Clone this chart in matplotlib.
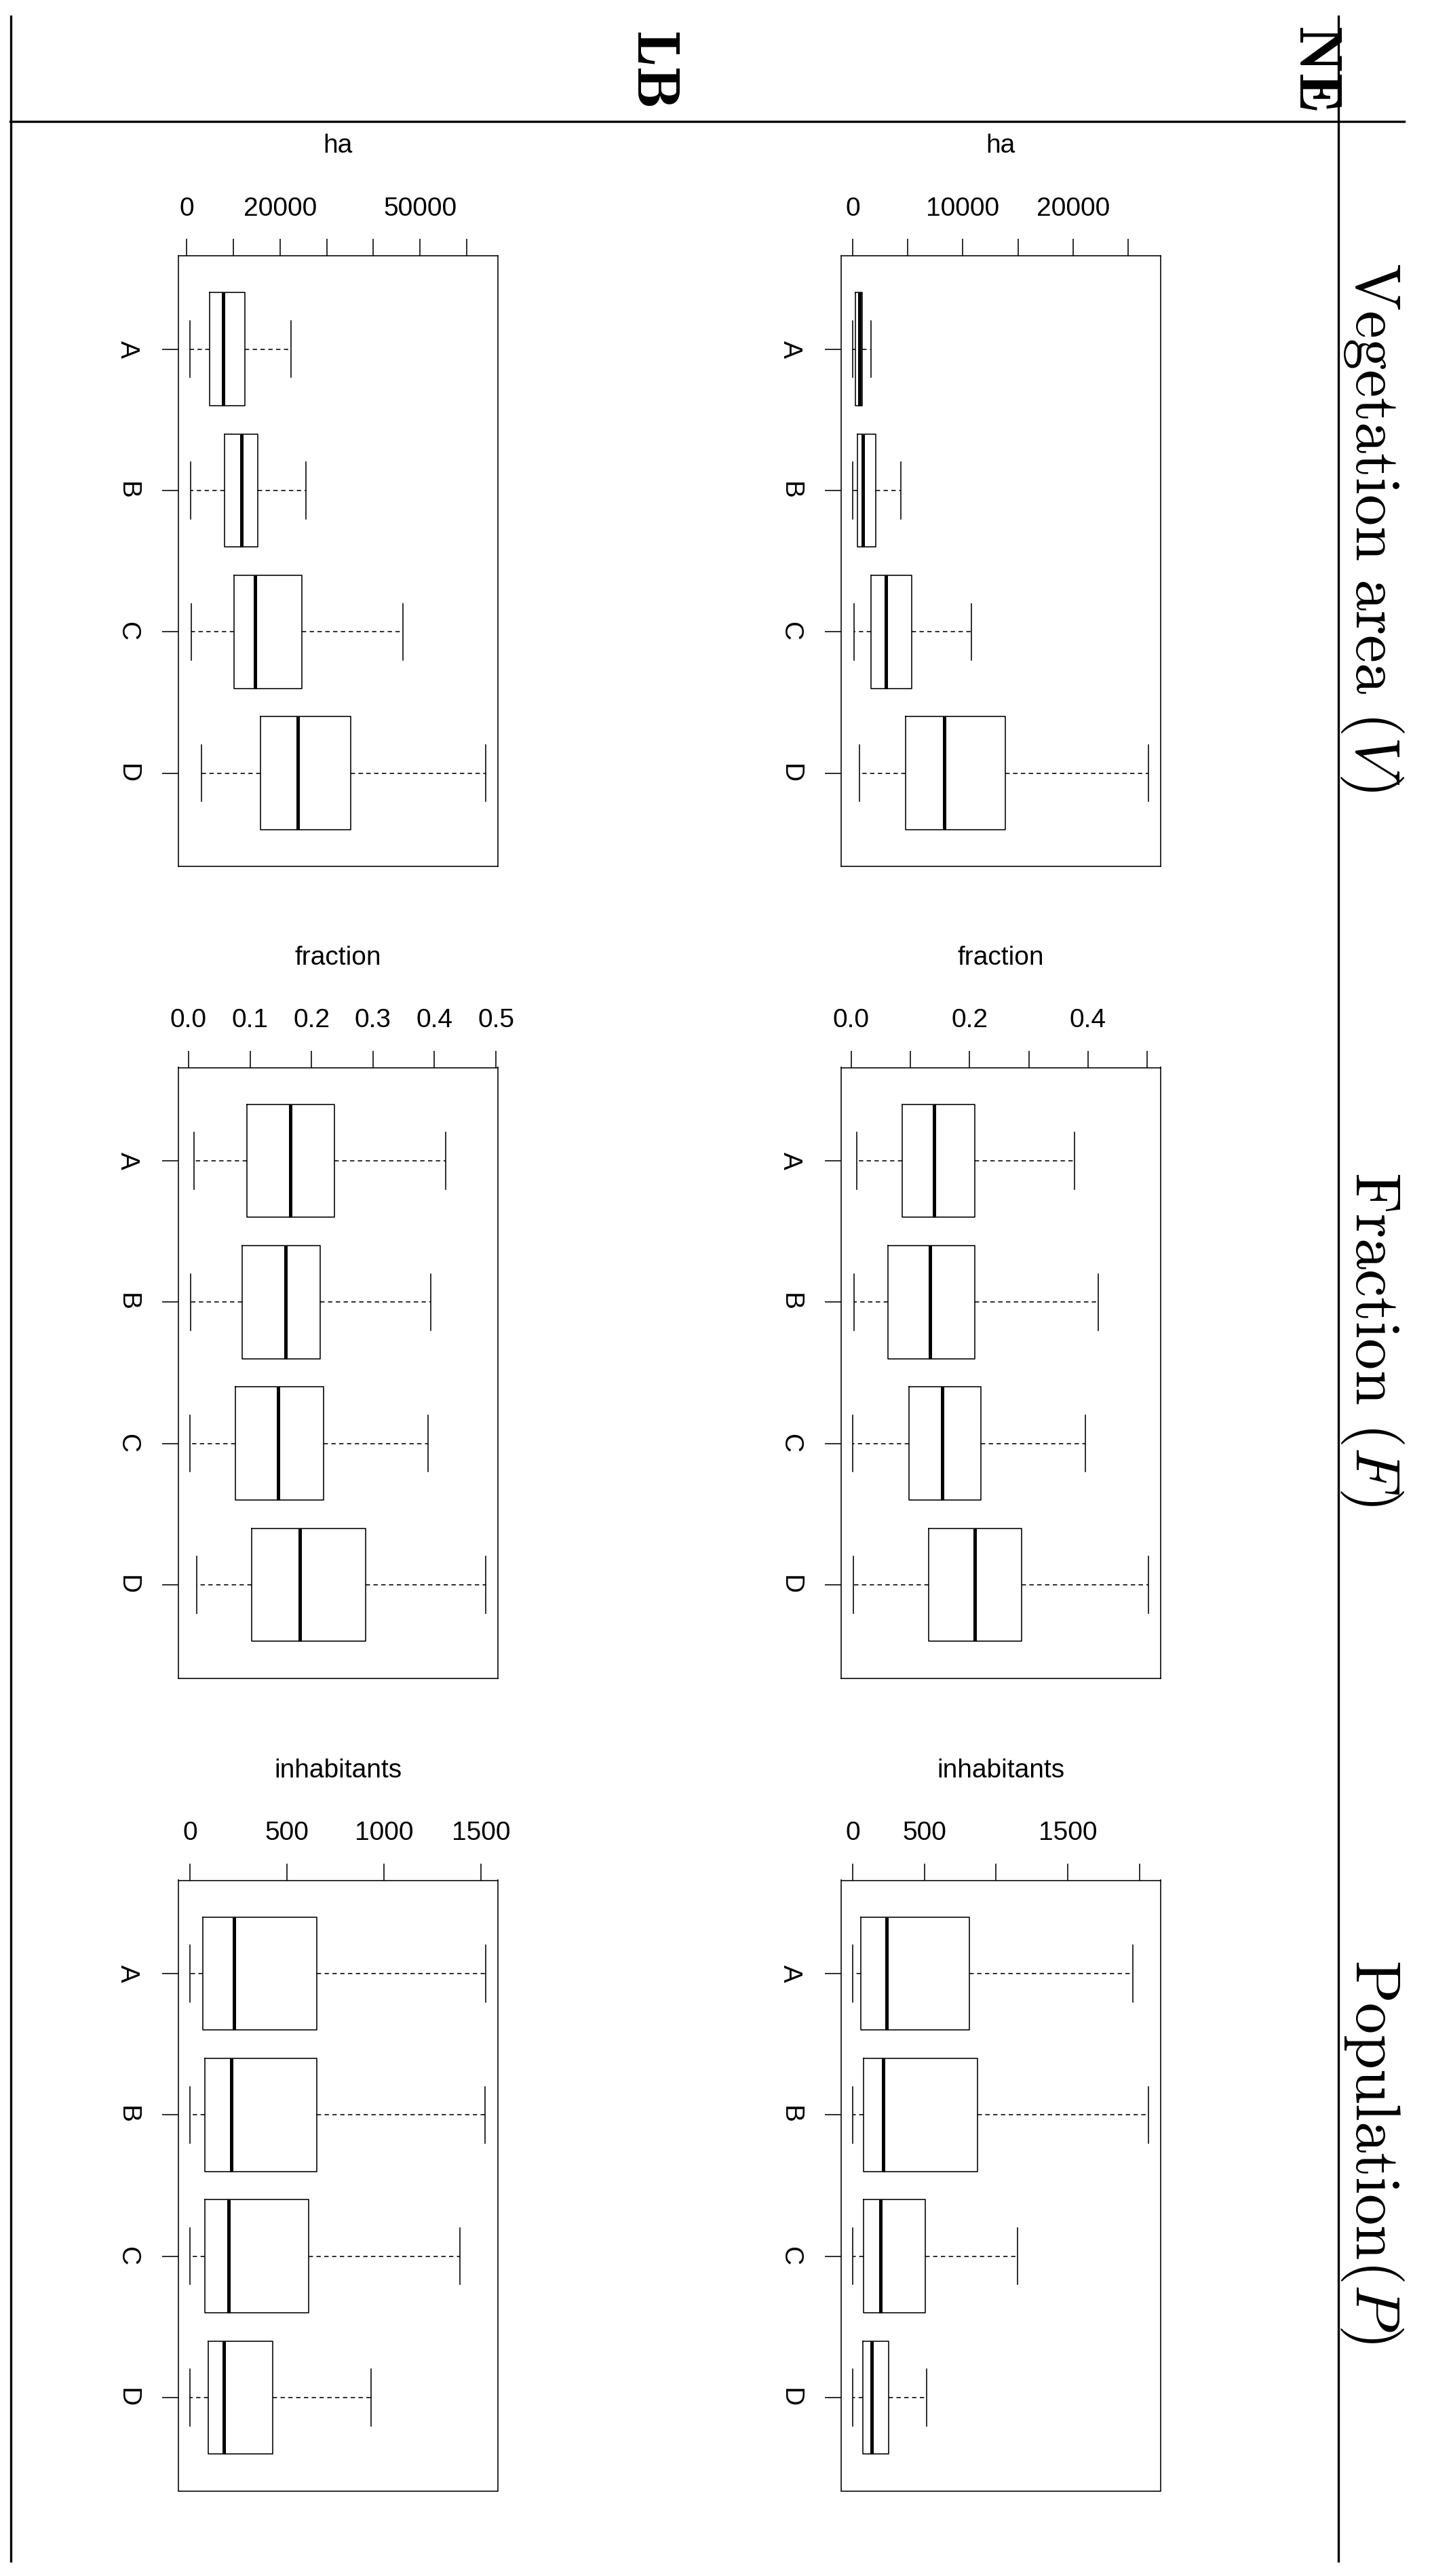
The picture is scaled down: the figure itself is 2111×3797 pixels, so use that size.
import matplotlib
matplotlib.use("Agg")
import matplotlib.pyplot as plt
from matplotlib.lines import Line2D

plt.rcParams['mathtext.fontset'] = 'cm'
plt.rcParams['font.family'] = ['Liberation Sans', 'DejaVu Sans']

# ---------------- data ----------------
CATEGORIES = ['A', 'B', 'C', 'D']
REGIONS = ['NE', 'LB']
ROW_TITLES = [r'$\mathrm{Vegetation\ area}\ (V)$',
              r'$\mathrm{Fraction}\ (F)$',
              r'$\mathrm{Population}(P)$']
UNITS = ['ha', 'fraction', 'inhabitants']

# NE - vegetation area (ha)
NE_V_LO = [0, 0, 100, 590]
NE_V_Q1 = [280, 460, 1640, 4790]
NE_V_MED = [590, 945, 3040, 8300]
NE_V_Q3 = [868, 2065, 5380, 13850]
NE_V_HI = [1685, 4390, 10800, 26830]
# LB - vegetation area (ha)
LB_V_LO = [720, 840, 1020, 3190]
LB_V_Q1 = [4930, 8120, 10100, 15810]
LB_V_MED = [7820, 11780, 14730, 23870]
LB_V_Q3 = [12450, 15210, 24650, 35110]
LB_V_HI = [22300, 25490, 46350, 64090]
# NE - fraction
NE_F_LO = [0.0090, 0.0052, 0.0024, 0.0033]
NE_F_Q1 = [0.0859, 0.0617, 0.0972, 0.1314]
NE_F_MED = [0.1399, 0.1333, 0.1542, 0.2083]
NE_F_Q3 = [0.2092, 0.2092, 0.2187, 0.2884]
NE_F_HI = [0.3771, 0.4175, 0.3961, 0.5024]
# LB - fraction
LB_F_LO = [0.0087, 0.0032, 0.0023, 0.0132]
LB_F_Q1 = [0.0950, 0.0868, 0.0763, 0.1023]
LB_F_MED = [0.1658, 0.1580, 0.1452, 0.1808]
LB_F_Q3 = [0.2370, 0.2137, 0.2192, 0.2877]
LB_F_HI = [0.4183, 0.3941, 0.3900, 0.4836]
# NE - population (inhabitants)
NE_P_LO = [0, 0, 0, 0]
NE_P_Q1 = [55, 78, 78, 69]
NE_P_MED = [239, 212, 196, 131]
NE_P_Q3 = [815, 872, 507, 249]
NE_P_HI = [1953, 2063, 1152, 517]
# LB - population (inhabitants)
LB_P_LO = [0, 0, 0, 0]
LB_P_Q1 = [65, 77, 77, 94]
LB_P_MED = [227, 214, 200, 175]
LB_P_Q3 = [655, 655, 613, 428]
LB_P_HI = [1525, 1520, 1392, 932]

# value-axis ticks and labels (R drops overlapping labels)
NE_V_TICKS = [0, 5000, 10000, 15000, 20000, 25000]
NE_V_LABELS = ['0', '', '10000', '', '20000', '']
LB_V_TICKS = [0, 10000, 20000, 30000, 40000, 50000, 60000]
LB_V_LABELS = ['0', '', '20000', '', '', '50000', '']
NE_F_TICKS = [0.0, 0.1, 0.2, 0.3, 0.4, 0.5]
NE_F_LABELS = ['0.0', '', '0.2', '', '0.4', '']
LB_F_TICKS = [0.0, 0.1, 0.2, 0.3, 0.4, 0.5]
LB_F_LABELS = ['0.0', '0.1', '0.2', '0.3', '0.4', '0.5']
NE_P_TICKS = [0, 500, 1000, 1500, 2000]
NE_P_LABELS = ['0', '500', '', '1500', '']
LB_P_TICKS = [0, 500, 1000, 1500]
LB_P_LABELS = ['0', '500', '1000', '1500']

PANELS = {
    ('NE', 0): (NE_V_LO, NE_V_Q1, NE_V_MED, NE_V_Q3, NE_V_HI, NE_V_TICKS, NE_V_LABELS),
    ('LB', 0): (LB_V_LO, LB_V_Q1, LB_V_MED, LB_V_Q3, LB_V_HI, LB_V_TICKS, LB_V_LABELS),
    ('NE', 1): (NE_F_LO, NE_F_Q1, NE_F_MED, NE_F_Q3, NE_F_HI, NE_F_TICKS, NE_F_LABELS),
    ('LB', 1): (LB_F_LO, LB_F_Q1, LB_F_MED, LB_F_Q3, LB_F_HI, LB_F_TICKS, LB_F_LABELS),
    ('NE', 2): (NE_P_LO, NE_P_Q1, NE_P_MED, NE_P_Q3, NE_P_HI, NE_P_TICKS, NE_P_LABELS),
    ('LB', 2): (LB_P_LO, LB_P_Q1, LB_P_MED, LB_P_Q3, LB_P_HI, LB_P_TICKS, LB_P_LABELS),
}

# ---------------- layout (pixels) ----------------
W, H = 2111, 3797
DPI = 100
COL_LEFT = {'NE': 1239.5, 'LB': 262.6}
COL_W = 471.0
ROW_TOP = [377.3, 1573.5, 2771.5]
ROW_H = 900.0

fig = plt.figure(figsize=(W / DPI, H / DPI), dpi=DPI)
fig.patch.set_facecolor('white')

LW = 1.15
FS = 28

for (region, row), (lo, q1, med, q3, hi, ticks, labels) in PANELS.items():
    left = COL_LEFT[region]
    top = ROW_TOP[row]
    ax = fig.add_axes([left / W, 1 - (top + ROW_H) / H, COL_W / W, ROW_H / H])
    stats = [dict(med=m, q1=a, q3=b, whislo=l, whishi=h, fliers=[], label=c)
             for c, l, a, m, b, h in zip(CATEGORIES, lo, q1, med, q3, hi)]
    pos = list(range(1, len(CATEGORIES) + 1))
    ax.bxp(stats, positions=pos, widths=0.8, capwidths=0.4,
           orientation='horizontal', showfliers=False,
           boxprops=dict(color='black', linewidth=LW),
           medianprops=dict(color='black', linewidth=3.6, solid_capstyle='butt'),
           whiskerprops=dict(color='black', linewidth=LW, linestyle=(0, (4.0, 3.2))),
           capprops=dict(color='black', linewidth=LW))
    vmin, vmax = min(lo), max(hi)
    pad = 0.04 * (vmax - vmin)
    ax.set_xlim(vmin - pad, vmax + pad)
    ylo, yhi = 0.5, len(CATEGORIES) + 0.5
    ypad = 0.04 * (yhi - ylo)
    ax.set_ylim(yhi + ypad, ylo - ypad)

    ax.xaxis.tick_top()
    ax.set_xticks(ticks, labels=labels)
    ax.set_yticks(pos, labels=CATEGORIES, rotation=-90, va='center')
    ax.tick_params(axis='x', direction='out', length=18, width=LW, pad=19,
                   labelsize=FS, top=True, bottom=False)
    ax.tick_params(axis='y', direction='out', length=17.6, width=LW, pad=23,
                   labelsize=FS, left=True, right=False)
    for sp in ax.spines.values():
        sp.set_linewidth(LW)
    ax.text(0.5, 1 + 162 / ROW_H, UNITS[row], transform=ax.transAxes,
            ha='center', va='center', fontsize=FS)

# row titles (rotated)
for row, title in enumerate(ROW_TITLES):
    yc = ROW_TOP[row] + ROW_H / 2 - 50
    fig.text(2022 / W, 1 - yc / H, title, rotation=-90, ha='center', va='center',
             fontsize=66.5)

# column headers
HEAD_X = {'NE': 1938.5, 'LB': 962.5}
for region in REGIONS:
    fig.text(HEAD_X[region] / W, 1 - 100 / H, r'$\mathbf{%s}$' % region,
             rotation=-90, ha='center', va='center', fontsize=64)

# frame lines
SEP_LW = 2.4
fig.add_artist(Line2D([15 / W, 2070 / W], [1 - 179 / H, 1 - 179 / H],
                      transform=fig.transFigure, color='black', linewidth=SEP_LW))
fig.add_artist(Line2D([1973 / W, 1973 / W], [1 - 24 / H, 1 - 3775 / H],
                      transform=fig.transFigure, color='black', linewidth=SEP_LW))
fig.add_artist(Line2D([16 / W, 16 / W], [1 - 24 / H, 1 - 3775 / H],
                      transform=fig.transFigure, color='black', linewidth=SEP_LW))

fig.savefig('out.png', dpi=DPI, facecolor='white')
